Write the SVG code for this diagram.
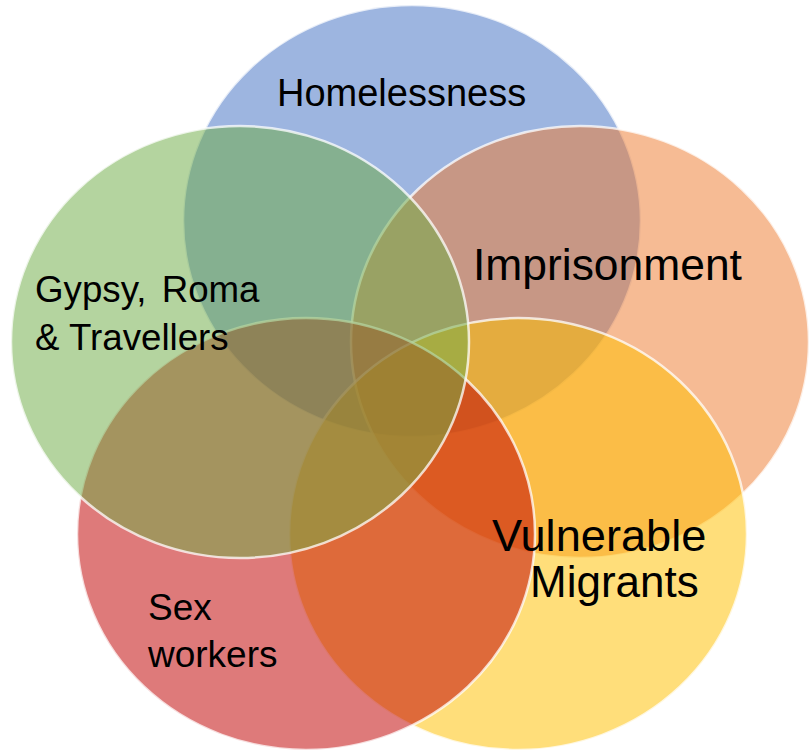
<svg xmlns="http://www.w3.org/2000/svg" width="810" height="751" viewBox="0 0 810 751">
  <style>
    .set { stroke: #ffffff; stroke-width: 2.5; stroke-opacity: 0.75; fill-opacity: 0.52; }
    .blue { fill: #4472C4; }
    .orange { fill: #ED7D31; }
    .yellow { fill: #FFC000; }
    .red { fill: #C00000; }
    .green { fill: #70AD47; }
    .label { font-family: "Liberation Sans", Arial, sans-serif; fill: #000000; }
  </style>
  <rect width="810" height="751" fill="#ffffff"/>

  <!-- five overlapping sets, drawn clockwise from the top -->
  <g id="node-homelessness">
    <ellipse class="set blue" cx="412" cy="221" rx="229" ry="216"/>
  </g>
  <g id="node-imprisonment">
    <ellipse class="set orange" cx="580" cy="342" rx="229" ry="216"/>
  </g>
  <g id="node-vulnerable-migrants">
    <ellipse class="set yellow" cx="518" cy="534" rx="229" ry="216"/>
  </g>
  <g id="node-sex-workers">
    <ellipse class="set red" cx="306" cy="534" rx="229" ry="216"/>
  </g>
  <g id="node-gypsy-roma-travellers">
    <ellipse class="set green" cx="240" cy="342" rx="229" ry="216"/>
  </g>

  <!-- set labels, kept above all fills -->
  <g id="labels">
    <text id="label-homelessness" class="label" x="277" y="106" font-size="38">Homelessness</text>
    <text id="label-imprisonment" class="label" x="473" y="280" font-size="44.4">Imprisonment</text>
    <text id="label-vulnerable-migrants" class="label" font-size="45">
      <tspan x="492" y="551" font-size="45.2">Vulnerable</tspan>
      <tspan x="530" y="597" font-size="44">Migrants</tspan>
    </text>
    <text id="label-sex-workers" class="label" font-size="37">
      <tspan x="148" y="620">Sex</tspan>
      <tspan x="148" y="667">workers</tspan>
    </text>
    <text id="label-gypsy-roma-travellers" class="label" font-size="36.7">
      <tspan x="35" y="302" word-spacing="5">Gypsy, Roma</tspan>
      <tspan x="35" y="350">&amp; Travellers</tspan>
    </text>
  </g>
</svg>
